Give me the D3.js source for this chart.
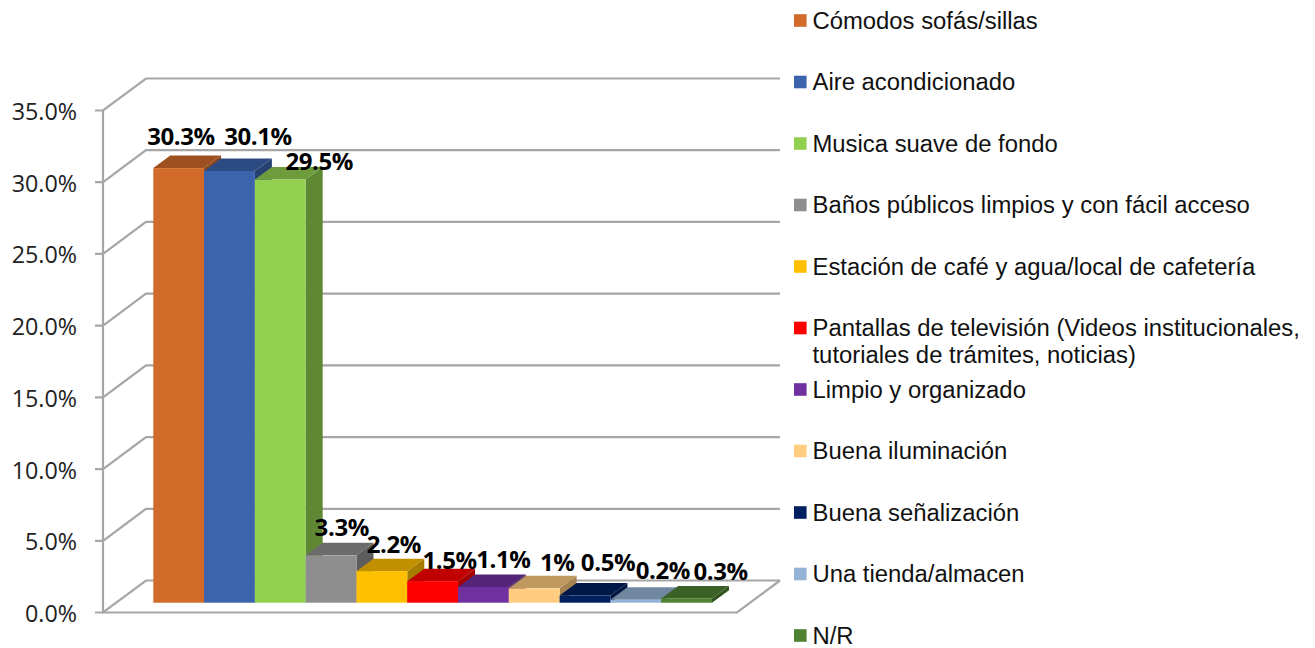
<!DOCTYPE html>
<html>
<head>
<meta charset="utf-8">
<script src="https://d3js.org/d3.v7.min.js"></script>
<style>
  body { margin: 0; background: #fff; }
  svg { display: block; }
</style>
</head>
<body>
<div id="mydata"></div>
<script>
var categories = ["Cómodos sofás/sillas", "Aire acondicionado", "Musica suave de fondo",
  "Baños públicos limpios y con fácil acceso", "Estación de café y agua/local de cafetería",
  "Pantallas de televisión (Videos institucionales,|tutoriales de trámites, noticias)",
  "Limpio y organizado", "Buena iluminación", "Buena señalización", "Una tienda/almacen", "N/R"];
var values = [30.3, 30.1, 29.5, 3.3, 2.2, 1.5, 1.1, 1, 0.5, 0.2, 0.3];
var valueLabels = ["30.3%", "30.1%", "29.5%", "3.3%", "2.2%", "1.5%", "1.1%", "1%", "0.5%", "0.2%", "0.3%"];
var colors = ["#D26B2A", "#3B64AD", "#92D050", "#8E8E8E", "#FFC000", "#FF0000", "#7030A0", "#FFCC80", "#002060", "#95B3D7", "#4F8132"];
var yTicks = [0, 5, 10, 15, 20, 25, 30, 35];

var width = 1315, height = 648;
var svg = d3.select("#mydata").append("svg")
  .attr("width", width).attr("height", height);

// front axis scale, the back wall is the same thing shifted
var yAxis = d3.scaleLinear().domain([0, 35]).range([612.5, 110.5]);
var wallDx = 43, wallDy = -32;
var floorRight = 737;

// bars stand a little inside the floor
var x = d3.scaleBand().domain(d3.range(categories.length)).range([153.3, 712]);
var base = 602.7;
var h = function(v) { return yAxis(0) - yAxis(v); };
var depthX = 17, depthY = -12.5;

var grid = svg.append("g").attr("fill", "none").attr("stroke", "#A6A6A6").attr("stroke-width", 2.2);

yTicks.forEach(function(t) {
  var yy = yAxis(t);
  grid.append("path").attr("d", "M" + 95 + "," + yy + "H103L" + (103 + wallDx) + "," + (yy + wallDy) + "H" + (floorRight + wallDx));
});
grid.append("path").attr("d", "M103," + yAxis(35) + "V" + yAxis(0) + "H" + floorRight + "L" + (floorRight + wallDx) + "," + (yAxis(0) + wallDy));

// tick labels
svg.append("g").selectAll("text").data(yTicks).enter().append("text")
  .attr("x", 77).attr("y", function(d) { return yAxis(d) + 9.5; })
  .attr("text-anchor", "end")
  .style("font-family", "Open Sans").style("font-size", "23.3px").style("fill", "#222")
  .text(function(d) { return d.toFixed(1) + "%"; });

// bars, each one only touches its neighbours at the sides
var bars = svg.append("g").selectAll("g").data(values).enter().append("g");
bars.append("path") // side
  .attr("d", function(d, i) {
    var x1 = x(i) + x.bandwidth(), t = base - h(d);
    return "M" + x1 + "," + t + "l" + depthX + "," + depthY + "v" + h(d) + "l" + (-depthX) + "," + (-depthY) + "z";
  })
  .attr("fill", function(d, i) { return d3.rgb(colors[i]).darker(1.2); });
bars.append("path") // top
  .attr("d", function(d, i) {
    var t = base - h(d);
    return "M" + x(i) + "," + t + "l" + depthX + "," + depthY + "h" + x.bandwidth() + "l" + (-depthX) + "," + (-depthY) + "z";
  })
  .attr("fill", function(d, i) { return d3.rgb(colors[i]).darker(0.8); });
bars.append("rect") // front
  .attr("x", function(d, i) { return x(i); })
  .attr("y", function(d) { return base - h(d); })
  .attr("width", x.bandwidth())
  .attr("height", function(d) { return h(d); })
  .attr("fill", function(d, i) { return colors[i]; });

// value labels, offset from the bar top because the original has them moved by hand
var labelDx = [2.3, 28.5, 39, 10.7, 12, 17, 20, 23, 23, 27, 34];
var labelDy = [-23, -25.7, -10, -19, -18, -12, -19, -17, -24.5, -21, -18];
svg.append("g").selectAll("text").data(values).enter().append("text")
  .attr("x", function(d, i) { return x(i) + x.bandwidth() / 2 + labelDx[i]; })
  .attr("y", function(d, i) { return base - h(d) + labelDy[i]; })
  .attr("text-anchor", "middle")
  .style("font-family", "Open Sans").style("font-weight", "bold").style("font-size", "24px")
  .style("letter-spacing", "-0.4px").style("fill", "#000")
  .text(function(d, i) { return valueLabels[i]; });

// legend
var legendY = d3.scalePoint().domain(d3.range(categories.length)).range([20.5, 635.5]);
var legend = svg.append("g").selectAll("g").data(categories).enter().append("g")
  .attr("transform", function(d, i) { return "translate(794," + legendY(i) + ")"; });
legend.append("rect").attr("y", -6.3).attr("width", 12.6).attr("height", 12.6)
  .attr("fill", function(d, i) { return colors[i]; });
legend.append("text")
  .attr("y", 8)
  .style("font-family", "Liberation Sans").style("font-size", "23.85px").style("fill", "#111")
  .selectAll("tspan").data(function(d) { return d.split("|"); }).enter().append("tspan")
  .attr("x", 18.5).attr("dy", function(d, i) { return i ? 27 : 0; })
  .text(function(d) { return d; });
</script>
</body>
</html>
